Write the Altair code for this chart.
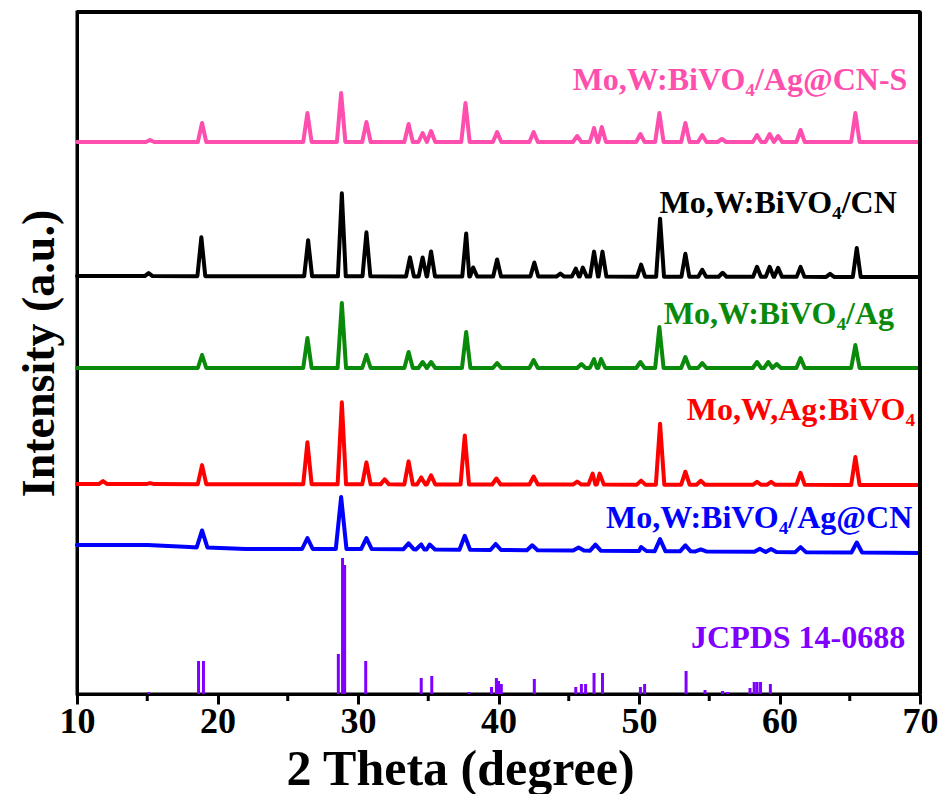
import altair as alt
import pandas as pd
import numpy as np

FONT = "Liberation Serif"

# ---- data (2θ in degrees, intensity in arbitrary offset units) ----
series_order = ["JCPDS 14-0688", "Mo,W:BiVO₄/Ag@CN", "Mo,W,Ag:BiVO₄",
                "Mo,W:BiVO₄/Ag", "Mo,W:BiVO₄/CN", "Mo,W:BiVO₄/Ag@CN-S"]
series_colors = ["#8000FF", "#0000FF", "#FF0000", "#0A8A0A", "#000000", "#FF4FAE"]

major_ticks = [10, 20, 30, 40, 50, 60, 70]
minor_ticks = [15, 25, 35, 45, 55, 65]
x_range = [10, 70]
y_range = [0, 682]

# Mo,W:BiVO4/Ag@CN-S (pink)
pink_base_x = [10, 70]
pink_base_y = [552, 552]
pink_pos = [15.2, 18.9, 26.4, 28.8, 30.6, 33.6, 34.6, 35.2, 37.65, 39.9, 42.5, 45.6, 46.8, 47.35,
            50.1, 51.45, 53.3, 54.5, 55.9, 58.4, 59.3, 59.9, 61.5, 65.4]
pink_h = [2, 19, 29, 49, 20, 18, 9, 11, 39, 10, 10, 6, 14, 15,
          8, 29, 19, 7, 3, 7, 8, 6, 12, 29]

# Mo,W:BiVO4/CN (black)
black_base_x = [10, 70]
black_base_y = [418, 417]
black_pos = [15.1, 18.85, 26.45, 28.85, 30.6, 33.7, 34.6, 35.2, 37.7, 38.2, 39.9, 42.55, 44.4,
             45.5, 46.0, 46.8, 47.4, 50.15, 51.5, 53.3, 54.5, 55.95, 58.4, 59.3, 59.9, 61.5,
             63.6, 65.5]
black_h = [3, 39, 36, 83, 44, 19, 19, 25, 43, 9, 17, 14, 3,
           8, 9, 25, 25, 12, 58, 23, 7, 4, 10, 10, 9, 10,
           3, 29]

# Mo,W:BiVO4/Ag (green)
green_base_x = [10, 70]
green_base_y = [326, 326]
green_pos = [18.9, 26.4, 28.85, 30.6, 33.6, 34.6, 35.2, 37.7, 39.9, 42.5, 45.9, 46.8, 47.3,
             50.1, 51.45, 53.3, 54.5, 58.4, 59.2, 59.8, 61.5, 65.4]
green_h = [13, 30, 65, 13, 16, 6, 6, 36, 5, 8, 4, 9, 9,
           6, 41, 11, 5, 6, 6, 4, 10, 23]

# Mo,W,Ag:BiVO4 (red)
red_base_x = [10, 70]
red_base_y = [210, 209]
red_pos = [11.85, 15.2, 18.9, 26.4, 28.85, 30.6, 31.9, 33.6, 34.5, 35.2, 37.6, 39.85, 42.5,
           45.6, 46.7, 47.2, 50.15, 51.5, 53.3, 54.4, 58.4, 59.4, 61.5, 65.4]
red_h = [3, 1, 19, 42, 82, 22, 5, 23, 7, 9, 49, 6, 8,
         3, 11, 11, 4, 61, 13, 4, 3, 3, 12, 28]

# Mo,W:BiVO4/Ag@CN (blue)
blue_base_x = [10, 15, 18, 22, 30, 50, 70]
blue_base_y = [149, 149, 147, 145, 145, 143, 141]
blue_pos = [18.9, 26.4, 28.8, 30.6, 33.6, 34.5, 35.1, 37.6, 39.8, 42.4, 45.7, 46.9, 50.15,
            51.5, 53.3, 54.4, 58.6, 59.4, 61.5, 65.5]
blue_h = [17, 11, 52, 11, 6, 5, 5, 14, 6, 5, 3, 6, 4,
          12, 6, 2, 3, 3, 5, 10]

# JCPDS 14-0688 reference sticks (violet)
ref_pos = [15.1, 18.65, 19.0, 28.6, 28.9, 29.05, 30.55, 34.5, 35.25, 37.9, 39.5, 39.85, 40.0,
           40.2, 42.55, 45.5, 45.9, 46.2, 46.8, 47.4, 50.1, 50.4, 53.35, 54.7, 55.95, 56.3,
           57.9, 58.2, 58.4, 58.65, 59.35]
ref_h = [2, 33, 33, 40, 136, 129, 33, 16, 18, 2, 7, 16, 13,
         10, 15, 7, 10, 10, 21, 21, 7, 10, 23, 4, 3, 2,
         6, 12, 12, 12, 10]

# label anchors (right end, middle) in data units
label_x = [68.95, 69.45, 69.65, 68.15, 68.35, 69.1]
label_y = [56, 176, 284, 380, 491, 614]

# ---- build line vertices: baseline anchors + a narrow peak per reflection ----
def build(name, bx, by, pos, h, w):
    xs = list(bx)
    ys = list(by)
    for p, hh in zip(pos, h):
        b = float(np.interp(p, bx, by))
        xs += [p - w, p, p + w]
        ys += [b, b + hh, b]
    df = pd.DataFrame({"x": xs, "y": ys})
    df = df.sort_values("x", kind="stable").reset_index(drop=True)
    df["series"] = name
    df["order"] = np.arange(len(df))
    return df

lines = pd.concat([
    build(series_order[1], blue_base_x, blue_base_y, blue_pos, blue_h, 0.38),
    build(series_order[2], red_base_x, red_base_y, red_pos, red_h, 0.3),
    build(series_order[3], green_base_x, green_base_y, green_pos, green_h, 0.3),
    build(series_order[4], black_base_x, black_base_y, black_pos, black_h, 0.28),
    build(series_order[5], pink_base_x, pink_base_y, pink_pos, pink_h, 0.3),
], ignore_index=True)

sticks = pd.DataFrame({"x": ref_pos, "y0": 0, "y": ref_h, "series": series_order[0]})
labels = pd.DataFrame({"x": label_x, "y": label_y, "series": series_order})
minor = pd.DataFrame({"x": minor_ticks})

color_scale = alt.Scale(domain=series_order, range=series_colors)
x_scale = alt.Scale(domain=x_range, nice=False, zero=False)
y_scale = alt.Scale(domain=y_range, nice=False, zero=False)

x_axis = alt.Axis(values=major_ticks, title="2 Theta (degree)", orient="bottom",
                  ticks=True, tickSize=10, tickWidth=3, tickColor="black",
                  labelFontSize=36, labelFont=FONT, labelFontWeight="bold",
                  labelColor="black", labelPadding=0, labelFlush=False, labelOverlap=False,
                  titleFontSize=50, titleFont=FONT, titleFontWeight="bold", titleColor="black",
                  titleX=383, titleY=90, titleAlign="center", titleBaseline="alphabetic",
                  domainWidth=3, domainColor="black", grid=False)
y_axis = alt.Axis(labels=False, ticks=False, grid=False, title="Intensity (a.u.)",
                  titleFontSize=46, titleFont=FONT, titleFontWeight="bold", titleColor="black",
                  titlePadding=14, domainWidth=3, domainColor="black")

line_layer = alt.Chart(lines).mark_line(strokeWidth=4, strokeJoin="round", strokeCap="round").encode(
    x=alt.X("x:Q", scale=x_scale, axis=x_axis),
    y=alt.Y("y:Q", scale=y_scale, axis=y_axis),
    color=alt.Color("series:N", scale=color_scale, legend=None),
    order="order:Q",
    detail="series:N",
)

stick_layer = alt.Chart(sticks).mark_rule(strokeWidth=3).encode(
    x=alt.X("x:Q", scale=x_scale),
    y=alt.Y("y0:Q", scale=y_scale),
    y2="y:Q",
    color=alt.Color("series:N", scale=color_scale, legend=None),
)

label_layer = alt.Chart(labels).mark_text(align="right", baseline="middle", font=FONT,
                                          fontWeight="bold", fontSize=32).encode(
    x=alt.X("x:Q", scale=x_scale),
    y=alt.Y("y:Q", scale=y_scale),
    text="series:N",
    color=alt.Color("series:N", scale=color_scale, legend=None),
)

# minor ticks of the 2θ axis (every 5°), drawn just below the axis line
minor_layer = alt.Chart(minor).mark_rule(strokeWidth=3, color="black").encode(
    x=alt.X("x:Q", scale=x_scale),
    y=alt.datum(0, scale=y_scale),
    y2=alt.datum(-7),
)

# top and right edges of the frame
top_edge = alt.Chart(minor).mark_rule(strokeWidth=3, color="black").encode(
    x=alt.datum(x_range[0], scale=x_scale),
    x2=alt.datum(x_range[1]),
    y=alt.datum(y_range[1], scale=y_scale),
)
right_edge = alt.Chart(minor).mark_rule(strokeWidth=3, color="black").encode(
    x=alt.datum(x_range[1], scale=x_scale),
    y=alt.datum(y_range[0], scale=y_scale),
    y2=alt.datum(y_range[1]),
)

chart = alt.layer(line_layer, stick_layer, label_layer, minor_layer, top_edge, right_edge).properties(
    width=843, height=682,
    background="white",
    autosize=alt.AutoSizeParams(type="none"),
    padding={"left": 69, "top": 4, "right": 18, "bottom": 100},
).configure_view(stroke="black", strokeWidth=3)

chart.save("out.html", embed_options={"renderer": "svg", "actions": False})
